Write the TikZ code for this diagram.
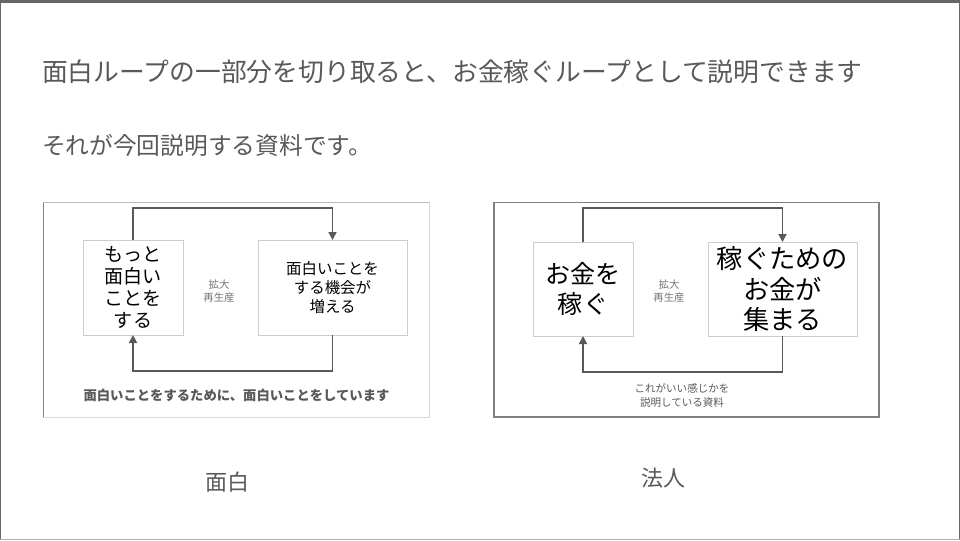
\documentclass[tikz,border=0pt]{standalone}
\usepackage{fontspec}
\setmainfont{Noto Sans CJK JP}
\usetikzlibrary{arrows.meta}
\definecolor{txt}{HTML}{595959}
\definecolor{framedark}{HTML}{666666}
\definecolor{framelight}{HTML}{B0B0B0}
\definecolor{boxline}{HTML}{CCCCCC}
\definecolor{panelline}{HTML}{808080}
\definecolor{panellight}{HTML}{D9D9D9}
\definecolor{arrowc}{HTML}{595959}
\definecolor{smalltxt}{HTML}{757575}
\tikzset{
  plain/.style={inner sep=0pt, outer sep=0pt},
  loopbox/.style={draw=boxline, line width=0.75pt, fill=white, inner sep=0pt, outer sep=0pt, align=center, text=black},
  looparrow/.style={draw=arrowc, line width=1.3pt, -{Triangle[length=6pt,width=6pt]}},
  loopline/.style={draw=arrowc, line width=1.3pt},
}
\begin{document}
\begin{tikzpicture}[x=0.75pt,y=-0.75pt]
\useasboundingbox (0,0) rectangle (960,540);
% slide frame
\fill[white] (0,0) rectangle (960,540);
\fill[framedark] (0,0) rectangle (960,3);
\fill[framedark] (0,0) rectangle (1.2,540);
\fill[framedark] (958.5,0) rectangle (960,540);
\fill[framelight] (0,538.5) rectangle (960,540);

% headings
\node[plain, anchor=west, text=txt, font=\fontsize{19.35pt}{23pt}\selectfont] (title) at (42,72)
  {面白ループの一部分を切り取ると、お金稼ぐループとして説明できます};
\node[plain, anchor=west, text=txt, font=\fontsize{17.8pt}{21pt}\selectfont] (sub) at (42,145)
  {それが今回説明する資料です。};

% ===== left panel =====
\draw[panellight, line width=0.75pt] (43,202) rectangle (429,417);
\draw[panelline, line width=1.3pt] (43.5,202) -- (43.5,417);
\draw[gray!55, line width=0.75pt] (43,202.5) -- (429,202.5);

\node[loopbox, minimum width=100*0.75pt, minimum height=95*0.75pt,
  font=\fontsize{14.3pt}{16.5pt}\selectfont] (lA) at (133,287.5)
  {もっと\\面白い\\ことを\\する};
\node[loopbox, minimum width=149*0.75pt, minimum height=95*0.75pt,
  font=\fontsize{11.6pt}{14.3pt}\selectfont] (lB) at (332.5,287.5)
  {面白いことを\\する機会が\\増える};
\node[plain, align=center, text=smalltxt, font=\fontsize{7.8pt}{9.8pt}\selectfont] (lC) at (219,291)
  {拡大\\再生産};
\node[plain, text=txt, font=\fontsize{10pt}{12pt}\selectfont\bfseries] (lD) at (236.5,395)
  {面白いことをするために、面白いことをしています};
\coordinate (lT1) at (133,208);
\coordinate (lT2) at (332.5,208);
\coordinate (lB1) at (332.5,371);
\coordinate (lB2) at (133,371);
\draw[looparrow] (lA.north) -- (lT1) -- (lT2) -- (lB.north);
\draw[looparrow] (lB.south) -- (lB1) -- (lB2) -- (lA.south);

% ===== right panel =====
\draw[panelline, line width=1.2pt] (494,202.5) rectangle (879,417);

\node[loopbox, minimum width=100*0.75pt, minimum height=94*0.75pt,
  font=\fontsize{18.8pt}{22.5pt}\selectfont] (rA) at (583,289)
  {お金を\\稼ぐ};
\node[loopbox, minimum width=149*0.75pt, minimum height=94*0.75pt,
  font=\fontsize{19.7pt}{23.2pt}\selectfont] (rB) at (782.5,289)
  {稼ぐための\\お金が\\集まる};
\node[plain, align=center, text=smalltxt, font=\fontsize{7.8pt}{9.8pt}\selectfont] (rC) at (669,291)
  {拡大\\再生産};
\node[plain, align=center, text=txt, font=\fontsize{7.9pt}{10.5pt}\selectfont] (rD) at (682,395)
  {これがいい感じかを\\説明している資料};
\coordinate (rT1) at (583,208);
\coordinate (rT2) at (782.5,208);
\coordinate (rB1) at (782.5,372);
\coordinate (rB2) at (583,372);
\draw[looparrow] (rA.north) -- (rT1) -- (rT2) -- (rB.north);
\draw[looparrow] (rB.south) -- (rB1) -- (rB2) -- (rA.south);

% captions
\node[plain, text=txt, font=\fontsize{16.5pt}{19pt}\selectfont] (capL) at (227,482) {面白};
\node[plain, text=txt, font=\fontsize{16.5pt}{19pt}\selectfont] (capR) at (663,478) {法人};
\end{tikzpicture}
\end{document}
